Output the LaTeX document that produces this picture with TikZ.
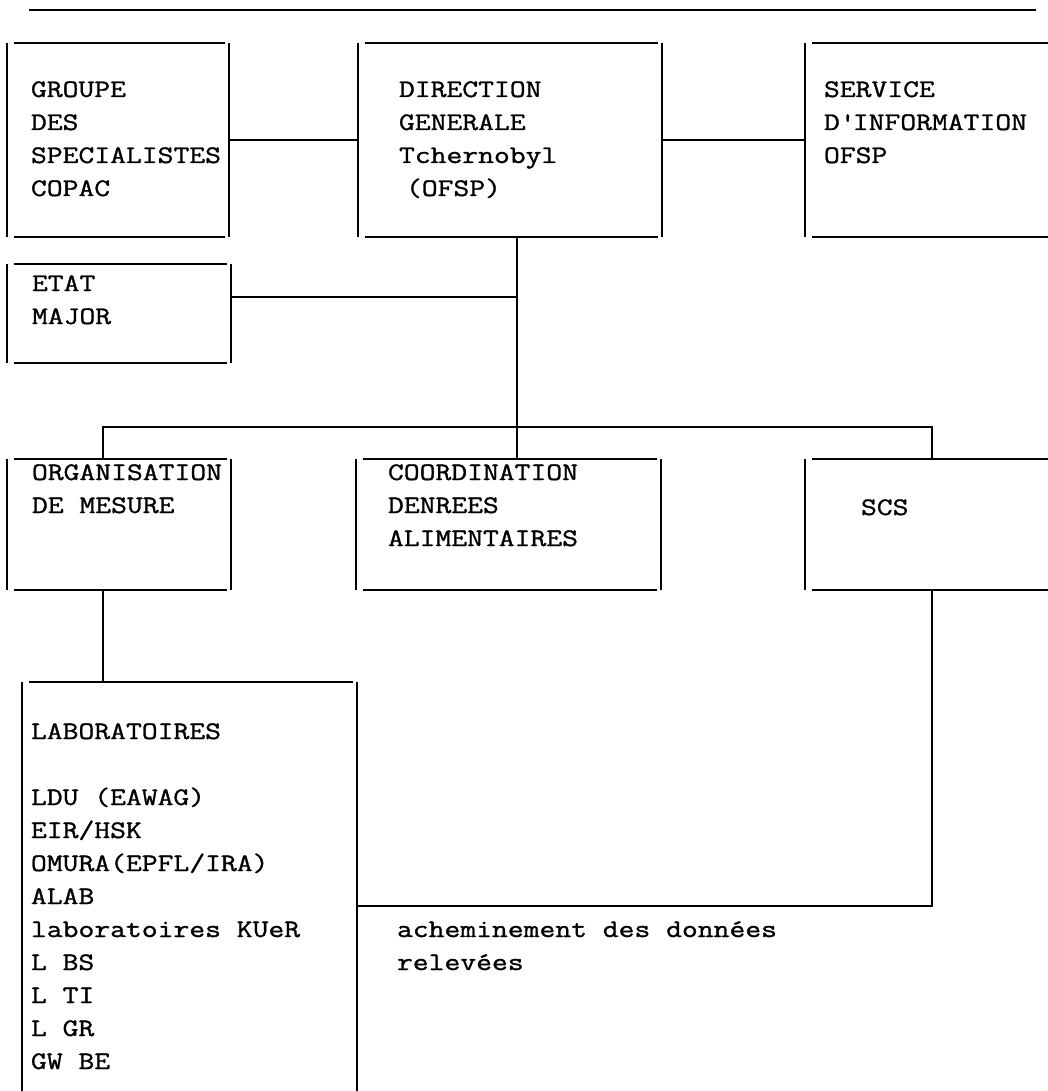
\documentclass[tikz,border=0pt]{standalone}
\usepackage{fontspec}
\newfontfamily\tw[FakeStretch=1.22,FakeBold=1.2]{Latin Modern Mono}
\usetikzlibrary{fit}
\newcommand\twlines[1]{\vtop{\tw\fontsize{25.2}{33}\selectfont\halign{##\hfil\cr#1\crcr}}}
\tikzset{
  boxarea/.style={inner sep=0pt, outer sep=0pt, rectangle},
  tline/.style={line width=2.5pt, black},
  txt/.style={anchor=base west, inner sep=0pt, outer sep=0pt},
}
\newcommand\tbox[1]{\draw[tline] (#1.north west) -- (#1.south west) (#1.north east) -- (#1.south east) ([xshift=7pt]#1.north west) -- ([xshift=-4pt]#1.north east) ([xshift=7pt]#1.south west) -- ([xshift=-4pt]#1.south east);}
\begin{document}
\begin{tikzpicture}[x=1pt,y=-1pt]
\useasboundingbox (0,0) rectangle (1048,1091);
\fill[white] (0,0) rectangle (1048,1091);
\clip (0,0) rectangle (1048,1091);
% top rule
\draw[tline] (29,10) -- (1036,10);
% boxes
\node[boxarea, fit={(7,43) (229,237)}] (grp) {};
\node[boxarea, fit={(358,43) (662,237)}] (dir) {};
\node[boxarea, fit={(805,43) (1070,237)}] (svc) {};
\node[boxarea, fit={(7,264) (231,363)}] (etat) {};
\node[boxarea, fit={(7,459) (231,590)}] (org) {};
\node[boxarea, fit={(356,459) (661,590)}] (coo) {};
\node[boxarea, fit={(805,459) (1070,590)}] (scs) {};
\node[boxarea, fit={(22,682) (357,1120)}] (lab) {};
\tbox{grp}\tbox{dir}\tbox{svc}\tbox{etat}\tbox{org}\tbox{coo}\tbox{scs}\tbox{lab}
% texts
\node[txt] (grpT) at (31,97) {\twlines{GROUPE\cr DES\cr SPECIALISTES\cr COPAC}};
\node[txt] (dirT) at (399,97) {\twlines{DIRECTION\cr GENERALE\cr Tchernobyl\cr \hspace*{7pt}(OFSP)}};
\node[txt] (svcT) at (824,97) {\twlines{SERVICE\cr D\textquotesingle INFORMATION\cr OFSP}};
\node[txt] (etatT) at (32,291) {\twlines{ETAT\cr MAJOR}};
\node[txt] (orgT) at (32,480) {\twlines{ORGANISATION\cr DE MESURE}};
\node[txt] (cooT) at (388,480) {\twlines{COORDINATION\cr DENREES\cr ALIMENTAIRES}};
\node[txt] (scsT) at (861,515) {\twlines{SCS}};
\node[txt] (labT) at (31,739) {\twlines{LABORATOIRES\cr \cr LDU (EAWAG)\cr EIR/HSK\cr OMURA(EPFL/IRA)\cr ALAB\cr laboratoires KUeR\cr L BS\cr L TI\cr L GR\cr GW BE}};
\node[txt] (noteT) at (397,937) {\twlines{acheminement des données\cr relevées}};
% connectors
\coordinate (j1) at (517,297);
\coordinate (b1) at (103,427);
\coordinate (b2) at (932,427);
\coordinate (j3) at (932,906);
\draw[tline] (grp.east) -- (dir.west);
\draw[tline] (dir.east) -- (svc.west);
\draw[tline] (dir.south -| j1) -- (coo.north -| j1);
\draw[tline] (etat.east |- j1) -- (j1);
\draw[tline] (b1 |- org.north) -- (b1) -- (b2) -- (b2 |- scs.north);
\draw[tline] (b1 |- org.south) -- (b1 |- lab.north);
\draw[tline] (b2 |- scs.south) -- (j3) -- (lab.east |- j3);
\end{tikzpicture}
\end{document}
